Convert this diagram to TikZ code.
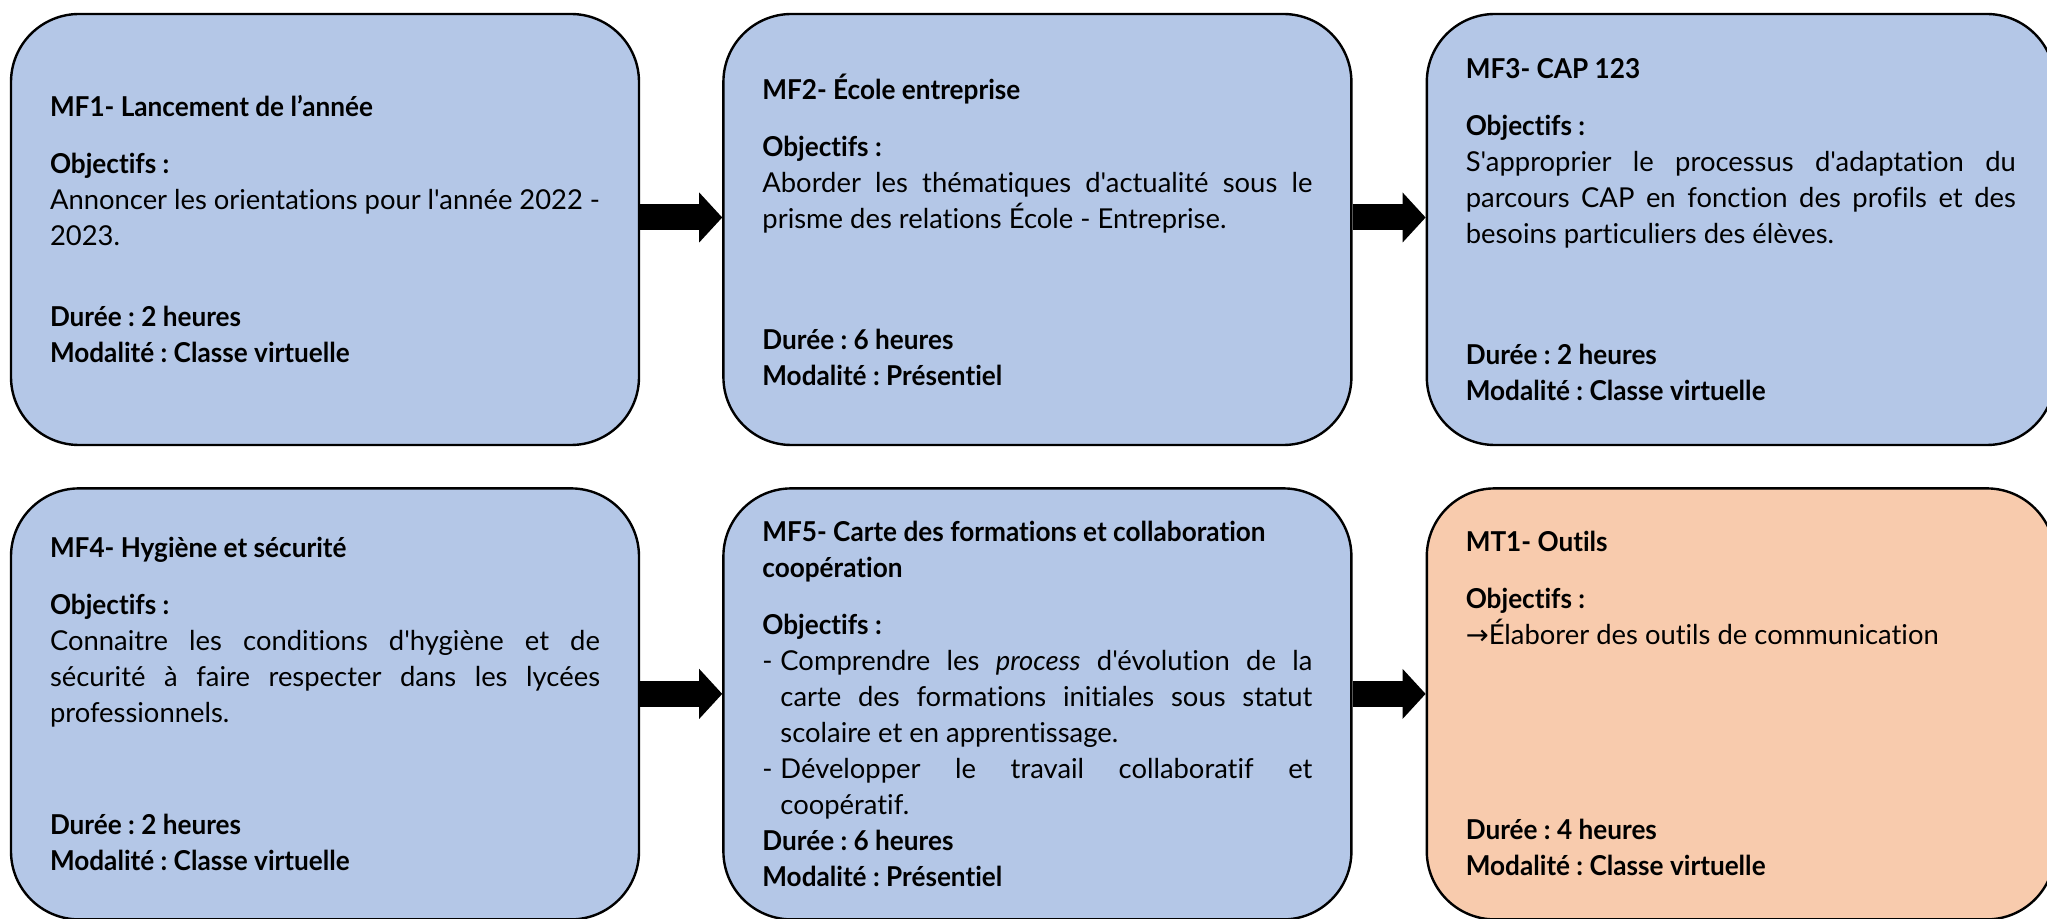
\documentclass[tikz,border=0pt]{standalone}
\usepackage{fontspec}
\setmainfont{Lato}[Ligatures={TeXOff,CommonOff}, BoldFeatures={FakeStretch=0.955}]
\newfontfamily\symfont{DejaVu Sans}
\usepackage{xcolor}
\usetikzlibrary{arrows.meta,positioning}

\definecolor{modblue}{HTML}{B4C7E7}
\definecolor{modpeach}{HTML}{F8CBAD}

\begin{document}
\frenchspacing
\begin{tikzpicture}[
    node distance=20.5pt and 41pt,
    module/.style={rectangle, rounded corners=34pt, minimum width=314pt, minimum height=215.5pt, text width=275pt, align=justify, inner sep=0pt, draw=black, line width=1.2pt, fill=modblue, font=\fontsize{13.7pt}{18pt}\selectfont},
    tool/.style={module, fill=modpeach},
    blockarrow/.style={line width=13pt, -{Triangle[length=11.5pt,width=25pt,line width=0pt]}}
]
\useasboundingbox (0,-459.5pt) rectangle (1023.5pt,0);

\node (mf1) [module] at (162.5pt,-114.75pt) {\textbf{MF1- Lancement de l’année}\par\vspace{10.5pt}
    \textbf{Objectifs :}\par
    Annoncer les orientations pour l'année 2022 -\linebreak 2023.\par\vspace{22.5pt}
    \textbf{Durée : 2 heures}\newline\textbf{Modalité : Classe virtuelle}};
\node (mf2) [module, right=of mf1] {\textbf{MF2- École entreprise}\par\vspace{10.5pt}
    \textbf{Objectifs :}\par
    Aborder les thématiques d'actualité sous le\linebreak prisme des relations École - Entreprise.\par\vspace{42.5pt}
    \textbf{Durée : 6 heures}\newline\textbf{Modalité : Présentiel}};
\node (mf3) [module, right=36.5pt of mf2] {\textbf{MF3- CAP 123}\par\vspace{10.5pt}
    \textbf{Objectifs :}\par
    S'approprier le processus d'adaptation du\linebreak parcours CAP en fonction des profils et des\linebreak besoins particuliers des élèves.\par\vspace{42.5pt}
    \textbf{Durée : 2 heures}\newline\textbf{Modalité : Classe virtuelle}};

\node (mf4) [module, below=of mf1] {\textbf{MF4- Hygiène et sécurité}\par\vspace{10.5pt}
    \textbf{Objectifs :}\par
    Connaitre les conditions d'hygiène et de\linebreak sécurité à faire respecter dans les lycées\linebreak professionnels.\par\vspace{38pt}
    \textbf{Durée : 2 heures}\newline\textbf{Modalité : Classe virtuelle}};
\node (mf5) [module, right=of mf4] {\textbf{MF5- Carte des formations et collaboration}\newline\textbf{coopération}\par\vspace{10.5pt}
    \textbf{Objectifs :}\par
    \noindent\hangindent=9pt\makebox[9pt][l]{-}Comprendre les \textit{process} d'évolution de la\linebreak carte des formations initiales sous statut\linebreak scolaire et en apprentissage.\par
    \noindent\hangindent=9pt\makebox[9pt][l]{-}Développer le travail collaboratif et\linebreak coopératif.\par
    \textbf{Durée : 6 heures}\newline\textbf{Modalité : Présentiel}};
\node (mt1) [tool, right=36.5pt of mf5] {\textbf{MT1- Outils}\par\vspace{10.5pt}
    \textbf{Objectifs :}\par
    {\symfont →}Élaborer des outils de communication\par\vspace{79.5pt}
    \textbf{Durée : 4 heures}\newline\textbf{Modalité : Classe virtuelle}};

\draw [blockarrow] ([yshift=6pt]mf1.east) -- ([yshift=6pt]mf2.west);
\draw [blockarrow] ([yshift=6pt]mf2.east) -- ([yshift=6pt]mf3.west);
\draw [blockarrow] ([yshift=5pt]mf4.east) -- ([yshift=5pt]mf5.west);
\draw [blockarrow] ([yshift=5pt]mf5.east) -- ([yshift=5pt]mt1.west);

\end{tikzpicture}
\end{document}
